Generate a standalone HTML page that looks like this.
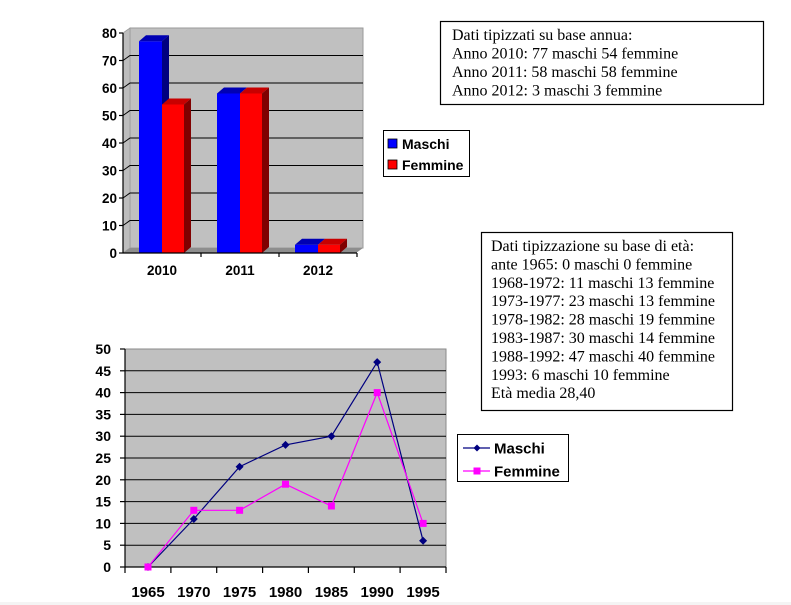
<!DOCTYPE html>
<html><head><meta charset="utf-8"><style>
html,body{margin:0;padding:0;background:#fff;}
svg{display:block;}
.ax{font-family:"Liberation Sans",Arial,sans-serif;font-weight:bold;fill:#000;}
.tm{font-family:"Liberation Serif","Times New Roman",serif;font-size:16px;fill:#000;}
</style></head><body>
<svg width="791" height="605" viewBox="0 0 791 605" xmlns="http://www.w3.org/2000/svg">
<rect x="0" y="0" width="791" height="605" fill="#fff"/>

<!-- ===== BAR CHART ===== -->
<polygon points="130,28 363,28 363,248 130,248" fill="#C0C0C0" stroke="#9a9a9a" stroke-width="1"/>
<polygon points="123,33 130,28 130,248 123,253" fill="#BDBDBD" stroke="#9a9a9a" stroke-width="0.8"/>
<polygon points="123,253 130,248 363,248 356,253" fill="#8E8E8E"/>
<g stroke="#000" stroke-width="1" fill="none">
<polyline points="123,225.5 130,220.5 363,220.5"/>
<polyline points="123,198 130,193 363,193"/>
<polyline points="123,170.5 130,165.5 363,165.5"/>
<polyline points="123,143 130,138 363,138"/>
<polyline points="123,115.5 130,110.5 363,110.5"/>
<polyline points="123,88 130,83 363,83"/>
<polyline points="123,60.5 130,55.5 363,55.5"/>
</g>
<!-- bars 2010 -->
<rect x="139" y="41.25" width="23" height="211.75" fill="#0000FF"/>
<polygon points="139,41.25 146,35.25 169,35.25 162,41.25" fill="#0000B4"/>
<polygon points="162,41.25 169,35.25 169,247 162,253" fill="#000080"/>
<rect x="162" y="104.5" width="22" height="148.5" fill="#FF0000"/>
<polygon points="162,104.5 169,98.5 191,98.5 184,104.5" fill="#C80000"/>
<polygon points="184,104.5 191,98.5 191,247 184,253" fill="#800000"/>
<!-- bars 2011 -->
<rect x="217" y="93.5" width="23" height="159.5" fill="#0000FF"/>
<polygon points="217,93.5 224,87.5 247,87.5 240,93.5" fill="#0000B4"/>
<rect x="240" y="93.5" width="22" height="159.5" fill="#FF0000"/>
<polygon points="240,93.5 247,87.5 269,87.5 262,93.5" fill="#C80000"/>
<polygon points="262,93.5 269,87.5 269,247 262,253" fill="#800000"/>
<!-- bars 2012 -->
<rect x="295" y="244.75" width="23" height="8.25" fill="#0000FF"/>
<polygon points="295,244.75 302,238.75 325,238.75 318,244.75" fill="#0000B4"/>
<rect x="318" y="244.75" width="22" height="8.25" fill="#FF0000"/>
<polygon points="318,244.75 325,238.75 347,238.75 340,244.75" fill="#C80000"/>
<polygon points="340,244.75 347,238.75 347,247 340,253" fill="#800000"/>
<!-- axes -->
<g stroke="#000" stroke-width="1.2" fill="none">
<line x1="123" y1="33" x2="123" y2="253"/>
<line x1="123" y1="253" x2="357" y2="253"/>
<line x1="119" y1="33" x2="123" y2="33"/>
<line x1="119" y1="60.5" x2="123" y2="60.5"/>
<line x1="119" y1="88" x2="123" y2="88"/>
<line x1="119" y1="115.5" x2="123" y2="115.5"/>
<line x1="119" y1="143" x2="123" y2="143"/>
<line x1="119" y1="170.5" x2="123" y2="170.5"/>
<line x1="119" y1="198" x2="123" y2="198"/>
<line x1="119" y1="225.5" x2="123" y2="225.5"/>
<line x1="119" y1="253" x2="123" y2="253"/>
<line x1="201" y1="253" x2="201" y2="257"/>
<line x1="279" y1="253" x2="279" y2="257"/>
<line x1="357" y1="253" x2="357" y2="257"/>
</g>
<g class="ax" font-size="13.5" text-anchor="end">
<text x="117" y="38">80</text>
<text x="117" y="65.5">70</text>
<text x="117" y="93">60</text>
<text x="117" y="120.5">50</text>
<text x="117" y="148">40</text>
<text x="117" y="175.5">30</text>
<text x="117" y="203">20</text>
<text x="117" y="230.5">10</text>
<text x="117" y="258">0</text>
</g>
<g class="ax" font-size="13.5" text-anchor="middle">
<text x="162" y="275">2010</text>
<text x="240" y="275">2011</text>
<text x="318" y="275">2012</text>
</g>
<!-- legend 1 -->
<rect x="383.5" y="130.5" width="86" height="46" fill="#fff" stroke="#000" stroke-width="1"/>
<rect x="388" y="139" width="9" height="9" fill="#0000FF" stroke="#000" stroke-width="0.8"/>
<rect x="388" y="160" width="9" height="9" fill="#FF0000" stroke="#000" stroke-width="0.8"/>
<g class="ax" font-size="14">
<text x="402" y="149">Maschi</text>
<text x="402" y="170">Femmine</text>
</g>
<!-- text box 1 -->
<rect x="440.5" y="21.5" width="323" height="83" fill="#fff" stroke="#000" stroke-width="1.2"/>
<g class="tm">
<text x="452" y="40">Dati tipizzati su base annua:</text>
<text x="452" y="58.5">Anno 2010: 77 maschi 54 femmine</text>
<text x="452" y="77">Anno 2011: 58 maschi 58 femmine</text>
<text x="452" y="95.4">Anno 2012: 3 maschi 3 femmine</text>
</g>

<!-- text box 2 -->
<rect x="481.5" y="232.5" width="251" height="178" fill="#fff" stroke="#000" stroke-width="1.2"/>
<g class="tm">
<text x="491" y="251">Dati tipizzazione su base di età:</text>
<text x="491" y="269.4">ante 1965: 0 maschi 0 femmine</text>
<text x="491" y="287.8">1968-1972: 11 maschi 13 femmine</text>
<text x="491" y="306.2">1973-1977: 23 maschi 13 femmine</text>
<text x="491" y="324.6">1978-1982: 28 maschi 19 femmine</text>
<text x="491" y="343">1983-1987: 30 maschi 14 femmine</text>
<text x="491" y="361.4">1988-1992: 47 maschi 40 femmine</text>
<text x="491" y="379.8">1993: 6 maschi 10 femmine</text>
<text x="491" y="398.2">Età media 28,40</text>
</g>

<!-- ===== LINE CHART ===== -->
<rect x="125" y="349" width="321" height="218" fill="#C0C0C0" stroke="#8a8a8a" stroke-width="1"/>
<g stroke="#000" stroke-width="1">
<line x1="125" y1="545.2" x2="446" y2="545.2"/>
<line x1="125" y1="523.4" x2="446" y2="523.4"/>
<line x1="125" y1="501.6" x2="446" y2="501.6"/>
<line x1="125" y1="479.8" x2="446" y2="479.8"/>
<line x1="125" y1="458" x2="446" y2="458"/>
<line x1="125" y1="436.2" x2="446" y2="436.2"/>
<line x1="125" y1="414.4" x2="446" y2="414.4"/>
<line x1="125" y1="392.6" x2="446" y2="392.6"/>
<line x1="125" y1="370.8" x2="446" y2="370.8"/>
</g>
<g stroke="#000" stroke-width="1.2" fill="none">
<line x1="125" y1="349" x2="125" y2="567"/>
<line x1="125" y1="567" x2="446" y2="567"/>
<line x1="120" y1="349" x2="125" y2="349"/>
<line x1="120" y1="370.8" x2="125" y2="370.8"/>
<line x1="120" y1="392.6" x2="125" y2="392.6"/>
<line x1="120" y1="414.4" x2="125" y2="414.4"/>
<line x1="120" y1="436.2" x2="125" y2="436.2"/>
<line x1="120" y1="458" x2="125" y2="458"/>
<line x1="120" y1="479.8" x2="125" y2="479.8"/>
<line x1="120" y1="501.6" x2="125" y2="501.6"/>
<line x1="120" y1="523.4" x2="125" y2="523.4"/>
<line x1="120" y1="545.2" x2="125" y2="545.2"/>
<line x1="120" y1="567" x2="125" y2="567"/>
<line x1="125" y1="567" x2="125" y2="573"/>
<line x1="170.9" y1="567" x2="170.9" y2="573"/>
<line x1="216.7" y1="567" x2="216.7" y2="573"/>
<line x1="262.6" y1="567" x2="262.6" y2="573"/>
<line x1="308.4" y1="567" x2="308.4" y2="573"/>
<line x1="354.3" y1="567" x2="354.3" y2="573"/>
<line x1="400.1" y1="567" x2="400.1" y2="573"/>
<line x1="446" y1="567" x2="446" y2="573"/>
</g>
<g class="ax" font-size="14" text-anchor="end">
<text x="111" y="354">50</text>
<text x="111" y="375.8">45</text>
<text x="111" y="397.6">40</text>
<text x="111" y="419.4">35</text>
<text x="111" y="441.2">30</text>
<text x="111" y="463">25</text>
<text x="111" y="484.8">20</text>
<text x="111" y="506.6">15</text>
<text x="111" y="528.4">10</text>
<text x="111" y="550.2">5</text>
<text x="111" y="572">0</text>
</g>
<g class="ax" font-size="15" text-anchor="middle">
<text x="148" y="597">1965</text>
<text x="193.8" y="597">1970</text>
<text x="239.6" y="597">1975</text>
<text x="285.5" y="597">1980</text>
<text x="331.4" y="597">1985</text>
<text x="377.2" y="597">1990</text>
<text x="423.1" y="597">1995</text>
</g>
<!-- Maschi series -->
<polyline points="148,567 193.8,519 239.6,466.7 285.5,444.9 331.4,436.2 377.2,362.1 423.1,540.8" fill="none" stroke="#000080" stroke-width="1.2"/>
<g fill="#000080">
<polygon points="148,563 152,567 148,571 144,567"/>
<polygon points="193.8,515 197.8,519 193.8,523 189.8,519"/>
<polygon points="239.6,462.7 243.6,466.7 239.6,470.7 235.6,466.7"/>
<polygon points="285.5,440.9 289.5,444.9 285.5,448.9 281.5,444.9"/>
<polygon points="331.4,432.2 335.4,436.2 331.4,440.2 327.4,436.2"/>
<polygon points="377.2,358.1 381.2,362.1 377.2,366.1 373.2,362.1"/>
<polygon points="423.1,536.8 427.1,540.8 423.1,544.8 419.1,540.8"/>
</g>
<!-- Femmine series -->
<polyline points="148,567 193.8,510.3 239.6,510.3 285.5,484.2 331.4,506 377.2,392.6 423.1,523.4" fill="none" stroke="#FF00FF" stroke-width="1.2"/>
<g fill="#FF00FF">
<rect x="144.5" y="563.5" width="7" height="7"/>
<rect x="190.3" y="506.8" width="7" height="7"/>
<rect x="236.1" y="506.8" width="7" height="7"/>
<rect x="282" y="480.7" width="7" height="7"/>
<rect x="327.9" y="502.5" width="7" height="7"/>
<rect x="373.7" y="389.1" width="7" height="7"/>
<rect x="419.6" y="519.9" width="7" height="7"/>
</g>
<!-- legend 2 -->
<rect x="457.5" y="434.5" width="111" height="47" fill="#fff" stroke="#000" stroke-width="1"/>
<line x1="463" y1="448" x2="490" y2="448" stroke="#000080" stroke-width="1.2"/>
<polygon points="477,444.5 480.5,448 477,451.5 473.5,448" fill="#000080"/>
<line x1="463" y1="471" x2="490" y2="471" stroke="#FF00FF" stroke-width="1.2"/>
<rect x="473.5" y="467.5" width="7" height="7" fill="#FF00FF"/>
<g class="ax" font-size="15">
<text x="494" y="453.5">Maschi</text>
<text x="494" y="476.5">Femmine</text>
</g>
<rect x="0" y="602" width="791" height="3" fill="#f4f4f4"/>
</svg>
</body></html>
